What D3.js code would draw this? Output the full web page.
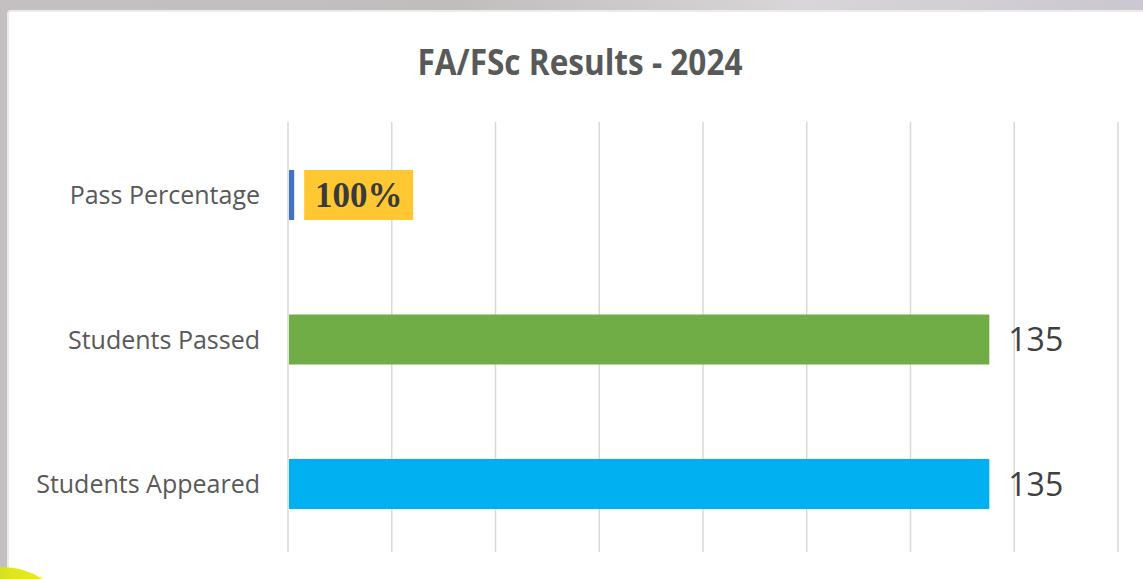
<!DOCTYPE html>
<html>
<head>
<meta charset="utf-8">
<script src="https://cdn.jsdelivr.net/npm/d3@7"></script>
<style>
  html, body { margin: 0; padding: 0; background: #c9c6cc; }
  #chart { width: 1143px; height: 579px; }
</style>
</head>
<body>
<div id="chart"></div>
<script>
// data
const categories = ["Pass Percentage", "Students Passed", "Students Appeared"];
const values = [1, 135, 135];
const valueLabels = ["100%", "135", "135"];
const barColors = ["#4472C4", "#70AD47", "#00B0F0"];
const xTicks = [0, 20, 40, 60, 80, 100, 120, 140, 160];
const title = "FA/FSc Results - 2024";

const width = 1143, height = 579;
const margin = { top: 122, right: 25, bottom: 27, left: 288 };

const svg = d3.select('#chart').append('svg')
    .attr('width', width)
    .attr('height', height)
    .style('display', 'block');

// background behind the slide panel
const defs = svg.append('defs');
const bg = defs.append('linearGradient').attr('id', 'bg').attr('x1', 0).attr('x2', 1);
bg.append('stop').attr('offset', '0%').attr('stop-color', '#c4c0c2');
bg.append('stop').attr('offset', '40%').attr('stop-color', '#c2bdbd');
bg.append('stop').attr('offset', '70%').attr('stop-color', '#d8d6d8');
bg.append('stop').attr('offset', '100%').attr('stop-color', '#cac7d0');
svg.append('rect').attr('width', width).attr('height', height).attr('fill', 'url(#bg)');

// white panel
svg.append('rect')
    .attr('x', 8).attr('y', 11)
    .attr('width', width).attr('height', height)
    .attr('rx', 3)
    .attr('fill', '#ffffff')
    .attr('stroke', '#ebebeb')
    .attr('stroke-width', 2);

// yellow-green blob bottom left
const blob = defs.append('linearGradient').attr('id', 'blob').attr('x1', 0).attr('x2', 1);
blob.append('stop').attr('offset', '0%').attr('stop-color', '#8cc63f');
blob.append('stop').attr('offset', '60%').attr('stop-color', '#dfe61c');
blob.append('stop').attr('offset', '100%').attr('stop-color', '#f0ee22');
svg.append('ellipse')
    .attr('cx', 0).attr('cy', 610)
    .attr('rx', 62).attr('ry', 43)
    .attr('fill', 'url(#blob)');

// scales
const x = d3.scaleLinear()
    .domain([0, 160])
    .range([margin.left, width - margin.right]);

const y = d3.scaleBand()
    .domain(categories)
    .range([124.5, 554.5])
    .paddingInner(0.654)
    .paddingOuter(0.315);

// gridlines
svg.append('g')
    .selectAll('line')
    .data(xTicks)
    .join('line')
    .attr('x1', d => x(d)).attr('x2', d => x(d))
    .attr('y1', margin.top).attr('y2', height - margin.bottom)
    .attr('stroke', '#d9d9d9')
    .attr('stroke-width', 1.5);

// title
svg.append('text')
    .attr('x', 580)
    .attr('y', 75)
    .attr('text-anchor', 'middle')
    .style('font-family', '"Open Sans", sans-serif')
    .style('font-size', '36px')
    .style('font-weight', 'bold')
    .attr('fill', '#595959')
    .attr('textLength', 325)
    .attr('lengthAdjust', 'spacingAndGlyphs')
    .text(title);

// category labels
svg.append('g')
    .selectAll('text')
    .data(categories)
    .join('text')
    .attr('x', 260)
    .attr('y', d => y(d) + y.bandwidth() / 2)
    .attr('dy', '0.36em')
    .attr('text-anchor', 'end')
    .style('font-family', '"Open Sans", sans-serif')
    .style('font-size', '25px')
    .attr('fill', '#595959')
    .text(d => d);

// bars
svg.append('g')
    .selectAll('rect')
    .data(categories)
    .join('rect')
    .attr('x', x(0) + 1)
    .attr('y', d => y(d))
    .attr('width', (d, i) => x(values[i]) - x(0))
    .attr('height', y.bandwidth())
    .attr('fill', (d, i) => barColors[i]);

// value labels
categories.forEach((c, i) => {
    const cy = y(c) + y.bandwidth() / 2;
    if (i === 0) {
        const bx = x(values[i]) + 11;
        svg.append('rect')
            .attr('x', bx)
            .attr('y', y(c))
            .attr('width', 109)
            .attr('height', y.bandwidth())
            .attr('fill', '#FFC832');
        svg.append('text')
            .attr('x', bx + 54.5)
            .attr('y', cy)
            .attr('dy', '0.35em')
            .attr('text-anchor', 'middle')
            .style('font-family', '"Liberation Serif", serif')
            .style('font-size', '35px')
            .style('font-weight', 'bold')
            .attr('fill', '#3a3a3a')
            .text(valueLabels[i]);
    } else {
        svg.append('text')
            .attr('x', x(values[i]) + 20)
            .attr('y', cy)
            .attr('dy', '0.36em')
            .style('font-family', '"Open Sans", sans-serif')
            .style('font-size', '32px')
            .attr('fill', '#404040')
            .text(valueLabels[i]);
    }
});
</script>
</body>
</html>
